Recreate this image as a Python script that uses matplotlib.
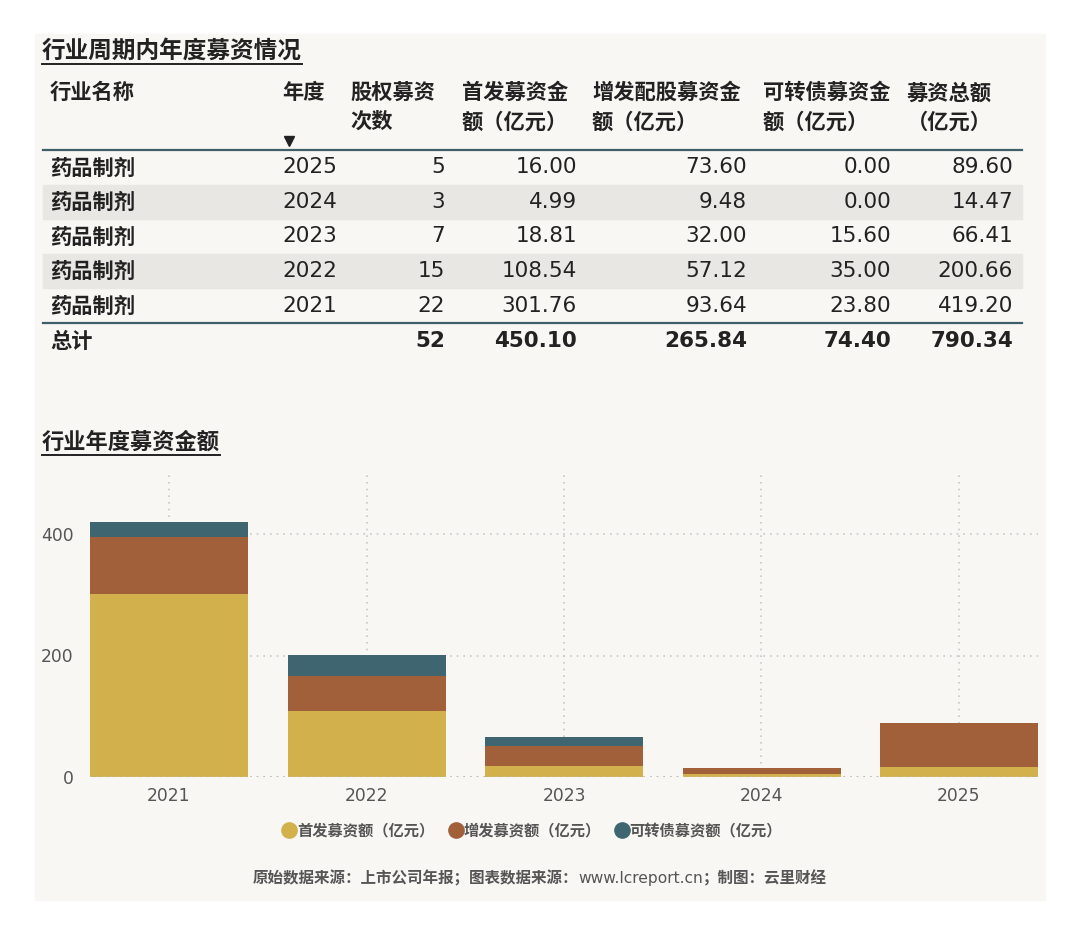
import matplotlib

matplotlib.use("Agg")
import matplotlib.pyplot as plt
from matplotlib.lines import Line2D
from matplotlib.patches import Rectangle

plt.rcParams["font.family"] = ["DejaVu Sans", "Noto Sans CJK SC"]

# -- data -------------------------------------------------------------------
industry = "药品制剂"
years = ["2025", "2024", "2023", "2022", "2021"]
deal_counts = [5, 3, 7, 15, 22]
ipo_amount = [16.00, 4.99, 18.81, 108.54, 301.76]
add_amount = [73.60, 9.48, 32.00, 57.12, 93.64]
conv_amount = [0.00, 0.00, 15.60, 35.00, 23.80]
total_amount = [89.60, 14.47, 66.41, 200.66, 419.20]
total_row = ["总计", "", "52", "450.10", "265.84", "74.40", "790.34"]

header_line1 = ["行业名称", "年度", "股权募资", "首发募资金", "增发配股募资金", "可转债募资金", "募资总额"]
header_line2 = ["", "", "次数", "额（亿元）", "额（亿元）", "额（亿元）", "（亿元）"]

chart_years = ["2021", "2022", "2023", "2024", "2025"]
series_names = ["首发募资额（亿元）", "增发募资额（亿元）", "可转债募资额（亿元）"]
y_ticks = [0, 200, 400]

PANEL = "#F9F7F4"
SHADE = "#E9E7E3"
RULE = "#3E5F69"
TEXT = "#222222"
GOLD = "#D2B04C"
BROWN = "#A1603A"
TEAL = "#3F6670"

W, H = 1080, 935
fig = plt.figure(figsize=(W / 100, H / 100), dpi=100)
fig.patch.set_facecolor("white")

# overlay axes in pixel coordinates (y grows downward)
ov = fig.add_axes([0, 0, 1, 1])
ov.set_xlim(0, W)
ov.set_ylim(H, 0)
ov.axis("off")
ov.set_zorder(0)

ov.add_patch(Rectangle((35, 34), 1010, 866, color=PANEL, zorder=0))


def underlined_title(x, y, s, size):
    t = ov.text(x, y, s, fontsize=size, color=TEXT, va="center", ha="left",
                fontweight="bold", zorder=3)
    r = fig.canvas.get_renderer()
    bb = t.get_window_extent(renderer=r)
    ov.plot([x, x + bb.width], [y + 13, y + 13], color=TEXT, lw=1.4, zorder=3)


# -- table ------------------------------------------------------------------
underlined_title(42, 51, "行业周期内年度募资情况", 17)

header_x = [50, 282, 350, 462, 592, 763, 907]
num_right = [None, None, 445, 577, 747, 891, 1013]
for hx, h1, h2 in zip(header_x, header_line1, header_line2):
    ov.text(hx, 93, h1, fontsize=15.3, color=TEXT, fontweight="bold", va="center", zorder=3)
    if h2:
        ov.text(hx, 122, h2, fontsize=15.3, color=TEXT, fontweight="bold", va="center", zorder=3)
ov.plot([289], [141], marker="v", color=TEXT, markersize=7, zorder=3)

ov.plot([43, 1022], [150, 150], color=RULE, lw=1.6, zorder=3)
row_h = 34.6
row_y = [150 + row_h * (i + 0.5) for i in range(len(years))]
for i, yc in enumerate(row_y):
    if i % 2 == 1:
        ov.add_patch(Rectangle((43, yc - row_h / 2), 979, row_h, color=SHADE, zorder=1))
    vals = [str(deal_counts[i]), f"{ipo_amount[i]:.2f}", f"{add_amount[i]:.2f}",
            f"{conv_amount[i]:.2f}", f"{total_amount[i]:.2f}"]
    ov.text(50, yc + 1, industry, fontsize=15.3, color=TEXT, fontweight="bold", va="center", zorder=3)
    ov.text(282, yc, years[i], fontsize=15.5, color=TEXT, va="center", zorder=3)
    for rx, v in zip(num_right[2:], vals):
        ov.text(rx, yc, v, fontsize=15.5, color=TEXT, va="center", ha="right", zorder=3)
ov.plot([43, 1022], [323, 323], color=RULE, lw=1.6, zorder=3)

ov.text(50, 342, total_row[0], fontsize=15.3, color=TEXT, fontweight="bold", va="center", zorder=3)
for rx, v in zip(num_right[2:], total_row[2:]):
    ov.text(rx, 341, v, fontsize=15.5, color=TEXT, fontweight="bold", va="center", ha="right", zorder=3)

# -- stacked bar chart ------------------------------------------------------
underlined_title(42, 442, "行业年度募资金额", 16)

ipo_c = ipo_amount[::-1]
add_c = add_amount[::-1]
conv_c = conv_amount[::-1]

ax_left, ax_right, ax_bot, ymax = 90, 1038, 777, 500
ax_top = ax_bot - ymax * 0.6075
ax = fig.add_axes([ax_left / W, 1 - ax_bot / H, (ax_right - ax_left) / W, (ax_bot - ax_top) / H])
ax.set_facecolor("none")
ax.set_zorder(2)
xs = range(len(chart_years))
ax.bar(xs, ipo_c, width=0.8, color=GOLD, zorder=2)
ax.bar(xs, add_c, width=0.8, bottom=ipo_c, color=BROWN, zorder=2)
bottom2 = [a + b for a, b in zip(ipo_c, add_c)]
ax.bar(xs, conv_c, width=0.8, bottom=bottom2, color=TEAL, zorder=2)
ax.axhline(0, color="#BBBBBB", lw=1.2, ls=(0, (1, 3)), zorder=3)

ax.set_xlim(-0.4, len(chart_years) - 0.6)
ax.set_ylim(0, ymax)
ax.set_xticks(list(xs))
ax.set_xticklabels(chart_years)
ax.set_yticks(y_ticks)
ax.set_yticklabels([str(t) for t in y_ticks])
ax.tick_params(length=0, labelsize=12.3, labelcolor="#555555")
ax.tick_params(axis="y", pad=12)
ax.tick_params(axis="x", pad=7)
ax.grid(True, color="#C8C8C8", lw=1.2, ls=(0, (1, 3)), zorder=0)
ax.set_axisbelow(True)
for s in ax.spines.values():
    s.set_visible(False)

handles = [Line2D([], [], marker="o", ls="none", color=c, markersize=11)
           for c in (GOLD, BROWN, TEAL)]
leg = fig.legend(handles, series_names, loc="center", bbox_to_anchor=(532 / W, 1 - 831 / H),
                 ncol=3, frameon=False, handletextpad=0.0, columnspacing=0.9,
                 handlelength=1.0, prop={"size": 11, "weight": "bold"})
for t in leg.get_texts():
    t.set_color("#555555")

# -- source line ------------------------------------------------------------
parts = [("原始数据来源：上市公司年报；图表数据来源：", "bold"),
         ("www.lcreport.cn", "normal"),
         ("；制图：云里财经", "bold")]
r = fig.canvas.get_renderer()
texts = [ov.text(0, 878, s, fontsize=11.2, color="#555555", fontweight=w, va="center")
         for s, w in parts]
widths = [t.get_window_extent(renderer=r).width for t in texts]
x0 = 540 - sum(widths) / 2
for t, w in zip(texts, widths):
    t.set_x(x0)
    x0 += w

fig.savefig("out.png", dpi=100, facecolor=fig.get_facecolor())
